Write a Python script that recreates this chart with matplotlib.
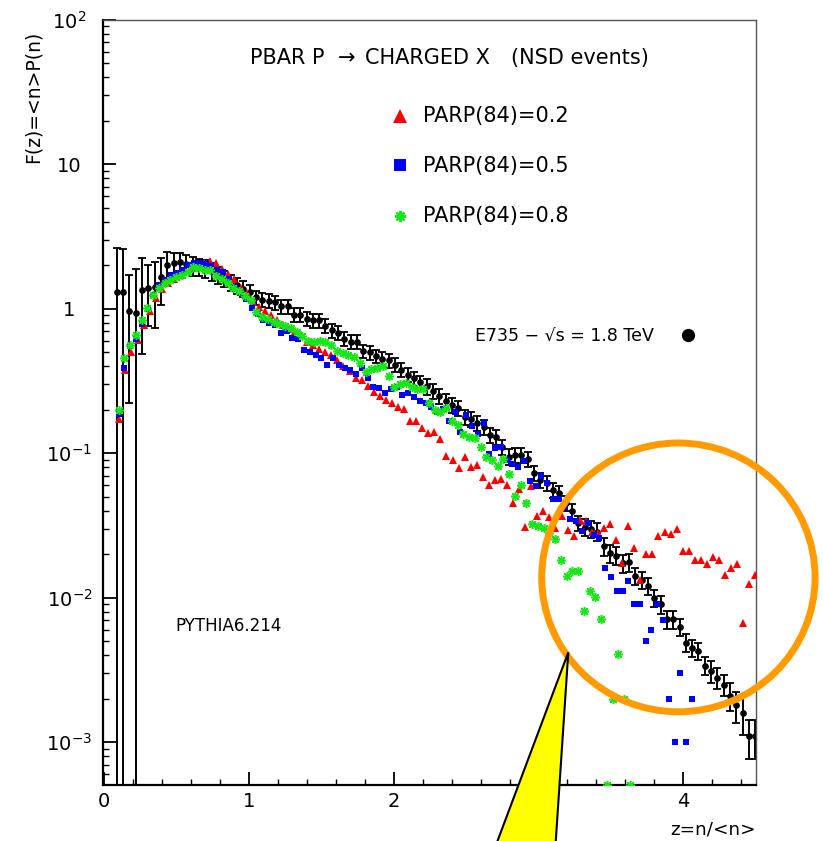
import numpy as np
import matplotlib
matplotlib.use("Agg")
import matplotlib.pyplot as plt
from matplotlib.patches import Ellipse, Polygon
from matplotlib.lines import Line2D
from matplotlib.ticker import FixedLocator, NullFormatter, MultipleLocator, LogLocator

# ---------------- data ----------------
# E735 data: charged multiplicity n (even) and <n>
mean_e735 = 45.8
n_e735 = list(range(4, 208, 2))
f_e735 = [1.31, 1.30, 0.97, 0.94, 1.36, 1.39, 1.42, 1.65, 2.00, 2.07,
          2.11, 2.04, 1.98, 1.95, 1.90, 1.82, 1.72, 1.62, 1.52, 1.45,
          1.38, 1.30, 1.20, 1.15, 1.14, 1.11, 1.04, 1.04, 0.91, 0.91,
          0.85, 0.83, 0.83, 0.76, 0.71, 0.68, 0.62, 0.59, 0.59, 0.51,
          0.50, 0.47, 0.45, 0.44, 0.41, 0.38, 0.35, 0.33, 0.31, 0.29,
          0.27, 0.25, 0.23, 0.217, 0.206, 0.179, 0.173, 0.161, 0.151, 0.134,
          0.129, 0.111, 0.095, 0.097, 0.097, 0.091, 0.073, 0.065, 0.062, 0.056,
          0.053, 0.045, 0.040, 0.033, 0.031, 0.030, 0.0287, 0.0228, 0.0203, 0.0196,
          0.0173, 0.0176, 0.0142, 0.0133, 0.0121, 0.0100, 0.0090, 0.0071, 0.0071, 0.0063,
          0.0049, 0.0045, 0.0043, 0.0034, 0.0031, 0.0028, 0.0025, 0.0021, 0.0018, 0.0016,
          0.0011, 0.0011]
rel_err_e735 = [1.0, 1.0, 0.77, 1.0, 0.64, 0.45, 0.48, 0.36, 0.24, 0.17,
                0.16, 0.15, 0.15, 0.14, 0.14, 0.14, 0.13, 0.13, 0.13, 0.13,
                0.12, 0.12, 0.11, 0.11, 0.11, 0.11, 0.11, 0.11, 0.11, 0.11,
                0.11, 0.11, 0.11, 0.11, 0.11, 0.11, 0.11, 0.11, 0.11, 0.11,
                0.11, 0.11, 0.11, 0.11, 0.11, 0.11, 0.11, 0.11, 0.11, 0.12,
                0.12, 0.12, 0.12, 0.12, 0.12, 0.12, 0.12, 0.12, 0.12, 0.12,
                0.12, 0.12, 0.12, 0.12, 0.12, 0.12, 0.12, 0.12, 0.12, 0.12,
                0.12, 0.12, 0.12, 0.12, 0.14, 0.14, 0.14, 0.14, 0.14, 0.14,
                0.14, 0.14, 0.14, 0.14, 0.14, 0.14, 0.14, 0.14, 0.14, 0.14,
                0.14, 0.14, 0.14, 0.14, 0.17, 0.17, 0.17, 0.22, 0.24, 0.30,
                0.30, 0.30]

# PYTHIA PARP(84)=0.2
mean_red = 47.8
n_red = list(range(5, 217, 2))
f_red = [0.172, 0.38, 0.50, 0.61, 0.77, 0.97, 1.18, 1.38, 1.50, 1.62,
         1.72, 1.82, 1.92, 2.00, 2.08, 2.14, 2.06, 1.90, 1.75, 1.60,
         1.40, 1.28, 1.12, 1.03, 0.97, 0.91, 0.84, 0.77, 0.73, 0.70,
         0.66, 0.59, 0.56, 0.53, 0.50, 0.48, 0.44, 0.40, 0.37, 0.33,
         0.32, 0.29, 0.265, 0.25, 0.235, 0.224, 0.208, 0.201, 0.167, 0.167,
         0.150, 0.139, 0.141, 0.126, 0.096, 0.090, 0.079, 0.095, 0.081, 0.083,
         0.069, 0.060, 0.065, 0.066, 0.060, 0.045, 0.057, 0.0307, 0.059, 0.037,
         0.040, 0.036, 0.0306, 0.037, 0.0294, 0.0268, 0.0345, 0.0342, 0.0284, 0.0283,
         0.0306, 0.0324, 0.0251, 0.0173, 0.0314, 0.0222, 0.0133, 0.0202, 0.0202, 0.0268,
         0.0286, 0.0278, 0.0298, 0.0211, 0.0211, 0.0182, 0.0182, 0.0172, 0.0192, 0.0182,
         0.0144, 0.0162, 0.0172, 0.0067, 0.0124, 0.0144]

# PYTHIA PARP(84)=0.5
mean_blue = 50.0
n_blue = list(range(5, 205, 2))
f_blue = [0.187, 0.39, 0.55, 0.62, 0.79, 1.00, 1.25, 1.46, 1.58, 1.71,
          1.78, 1.87, 2.01, 2.09, 2.09, 2.04, 1.98, 1.87, 1.81, 1.60,
          1.42, 1.29, 1.16, 1.01, 0.92, 0.836, 0.80, 0.773, 0.676, 0.706,
          0.625, 0.615, 0.52, 0.50, 0.48, 0.46, 0.41, 0.454, 0.41, 0.39,
          0.38, 0.352, 0.387, 0.334, 0.289, 0.285, 0.26, 0.28, 0.286, 0.253,
          0.26, 0.244, 0.231, 0.224, 0.21, 0.194, 0.201, 0.167, 0.192, 0.141,
          0.183, 0.155, 0.137, 0.163, 0.0995, 0.108, 0.111, 0.090, 0.084, 0.080,
          0.089, 0.064, 0.059, 0.070, 0.0627, 0.0486, 0.0483, 0.0428, 0.0351, 0.0342,
          0.0292, 0.0328, 0.0272, 0.026, 0.016, 0.014, 0.0111, 0.0111, 0.0131, 0.0091,
          0.0091, 0.0050, 0.0060, 0.0091, 0.0070, 0.0020, 0.0010, 0.0030, 0.0010, 0.0020]

# PYTHIA PARP(84)=0.8
mean_green = 50.4
n_green = list(range(5, 185, 2))
f_green = [0.20, 0.454, 0.56, 0.66, 0.84, 1.02, 1.24, 1.40, 1.50, 1.58,
           1.65, 1.72, 1.80, 1.94, 1.93, 1.87, 1.85, 1.68, 1.60, 1.52,
           1.40, 1.33, 1.22, 1.15, 0.955, 0.883, 0.846, 0.815, 0.785, 0.760,
           0.733, 0.695, 0.649, 0.602, 0.593, 0.602, 0.589, 0.561, 0.510, 0.492,
           0.479, 0.467, 0.424, 0.367, 0.381, 0.387, 0.402, 0.343, 0.289, 0.302,
           0.305, 0.286, 0.277, 0.277, 0.222, 0.200, 0.194, 0.205, 0.166, 0.157,
           0.136, 0.130, 0.127, 0.110, 0.095, 0.090, 0.082, 0.091, 0.072, 0.0506,
           0.060, 0.0455, 0.0324, 0.0314, 0.0303, 0.028, 0.0254, 0.0183, 0.0142, 0.0154,
           0.0154, 0.0081, 0.0112, 0.0102, 0.0071, 0.00051, 0.0020, 0.0041, 0.0020, 0.00051]

x_ticks = [0, 1, 2, 3, 4]
x_tick_labels = ["0", "1", "2", "3", "4"]
y_ticks = [1e-3, 1e-2, 1e-1, 1, 10, 100]
y_tick_labels = [r"$10^{-3}$", r"$10^{-2}$", r"$10^{-1}$", "1", "10", r"$10^{2}$"]

legend_labels = ["PARP(84)=0.2", "PARP(84)=0.5", "PARP(84)=0.8"]

# ---------------- figure ----------------
W, H, DPI = 823, 841, 100
plt.rcParams["font.family"] = ["DejaVu Sans"]
fig = plt.figure(figsize=(W / DPI, H / DPI), dpi=DPI)


def fx(px):
    return px / W


def fy(py):
    return 1 - py / H


ax_l, ax_r, ax_t, ax_b = 102.7, 755.7, 19.8, 785.0
ax = fig.add_axes([fx(ax_l), fy(ax_b), fx(ax_r) - fx(ax_l), fy(ax_t) - fy(ax_b)])
ax.set_yscale("log")
ax.set_xlim(-0.0104, 4.50)
ax.set_ylim(10 ** -3.2955, 100.0)

# E735 data with error bars
z_e = np.array(n_e735) / mean_e735
f_e = np.array(f_e735)
err = f_e * np.array(rel_err_e735)
lo = f_e - np.maximum(f_e - err, 1e-6)
ax.errorbar(z_e, f_e, yerr=[lo, err], fmt="o", color="black", ms=3.8,
            elinewidth=1.4, capsize=2.8, capthick=1.3, zorder=2)

ax.plot(np.array(n_red) / mean_red, f_red, ls="none", marker="^", color="#ff0000",
        ms=5.4, mew=0, zorder=3)
ax.plot(np.array(n_blue) / mean_blue, f_blue, ls="none", marker="s", color="#0000ff",
        ms=4.8, mew=0, zorder=4)
ax.plot(np.array(n_green) / mean_green, f_green, ls="none", marker=(8, 2, 0),
        color="#19e619", ms=6.5, mew=1.1, zorder=5)

# axes styling
for s in ["left", "bottom"]:
    ax.spines[s].set_linewidth(1.6)
for s in ["top", "right"]:
    ax.spines[s].set_linewidth(1.0)
    ax.spines[s].set_color("#555555")

ax.xaxis.set_major_locator(FixedLocator(x_ticks))
ax.set_xticklabels(x_tick_labels)
ax.xaxis.set_minor_locator(MultipleLocator(0.2))
ax.yaxis.set_major_locator(FixedLocator(y_ticks))
ax.set_yticklabels(y_tick_labels)
ax.yaxis.set_minor_locator(LogLocator(base=10, subs=np.arange(2, 10)))
ax.yaxis.set_minor_formatter(NullFormatter())

ax.tick_params(axis="both", which="major", direction="in", length=9.5, width=1.3,
               top=False, right=False, labelsize=14)
ax.tick_params(axis="both", which="minor", direction="in", length=4.5, width=1.0,
               top=False, right=False)
ax.tick_params(axis="x", which="major", pad=5)
ax.tick_params(axis="y", which="major", pad=24)
for lab in ax.get_yticklabels():
    lab.set_horizontalalignment("center")

# ---------------- texts ----------------
fs_t = 15
fig.text(fx(250), fy(64), "PBAR P", fontsize=fs_t, va="baseline", ha="left")
fig.text(fx(347), fy(64), "\u2192", fontsize=fs_t, va="baseline", ha="center")
fig.text(fx(365), fy(64), "CHARGED X", fontsize=fs_t, va="baseline", ha="left")
fig.text(fx(511), fy(64), "(NSD events)", fontsize=fs_t, va="baseline", ha="left")

leg_y = [121.7, 171.7, 222.3]
leg_mk_y = [116, 165, 216]
leg_style = [dict(marker="^", color="#ff0000", ms=10, mew=0),
             dict(marker="s", color="#0000ff", ms=9, mew=0),
             dict(marker=(8, 2, 0), color="#19e619", ms=8, mew=1.6)]
for lab, ty, my, st in zip(legend_labels, leg_y, leg_mk_y, leg_style):
    fig.add_artist(Line2D([fx(400)], [fy(my)], transform=fig.transFigure, ls="none", **st))
    fig.text(fx(423), fy(ty), lab, fontsize=15, va="baseline", ha="left")

fig.text(fx(475), fy(341.7), "E735 \u2212 \u221as = 1.8 TeV", fontsize=12.5,
         va="baseline", ha="left")
fig.add_artist(Line2D([fx(688)], [fy(335)], transform=fig.transFigure, ls="none",
                      marker="o", color="black", ms=8.5))

fig.text(fx(175), fy(631), "PYTHIA6.214", fontsize=12, va="baseline", ha="left")

fig.text(fx(33), fy(97), "F(z)=<n>P(n)", fontsize=13.5, rotation=90,
         ha="center", va="center")
fig.text(fx(670), fy(835), "z=n/<n>", fontsize=13.2, ha="left", va="baseline")

# ---------------- annotations ----------------
ring = Ellipse((fx(678.4), fy(577.4)), width=2 * 136.7 / W, height=2 * 134.4 / H,
               transform=fig.transFigure, fill=False, edgecolor="#ff9a00",
               linewidth=5.0, zorder=10)
fig.add_artist(ring)
tri = Polygon([(fx(568.3), fy(652.3)), (fx(496), fy(845)), (fx(555.5), fy(845))],
              closed=True, transform=fig.transFigure, facecolor="#ffff00",
              edgecolor="black", linewidth=1.5, zorder=11)
fig.add_artist(tri)

fig.savefig("out.png", dpi=DPI)
